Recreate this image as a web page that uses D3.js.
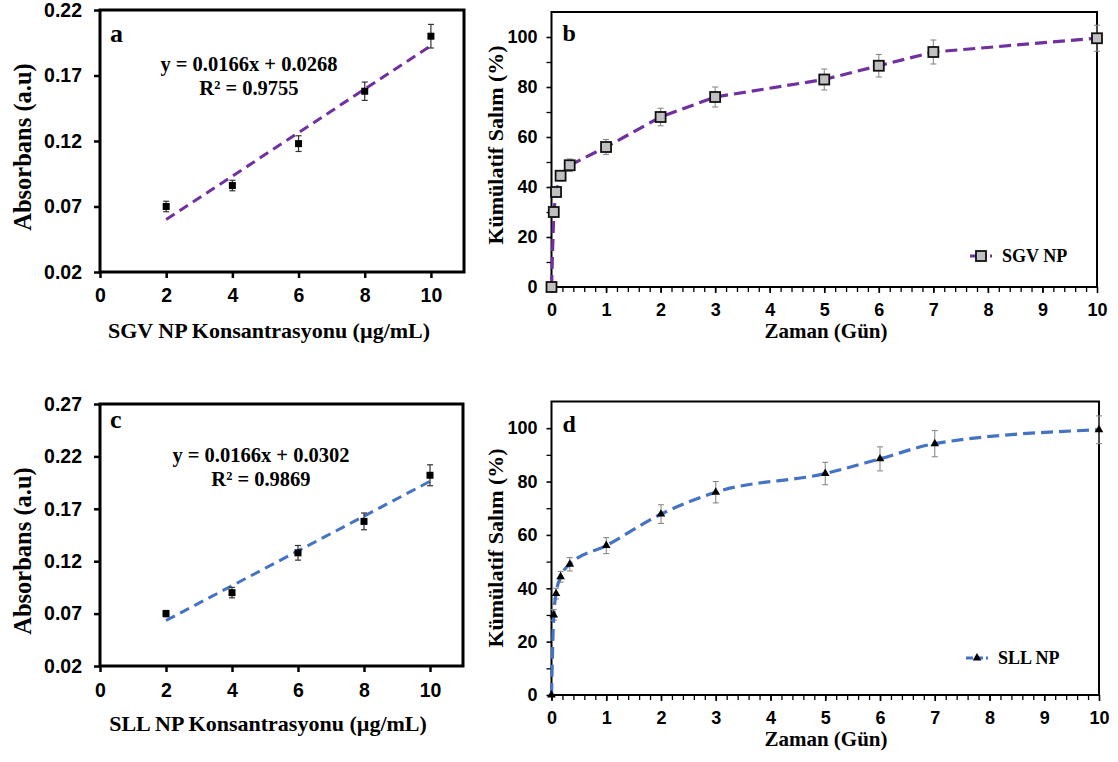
<!DOCTYPE html>
<html>
<head>
<meta charset="utf-8">
<script src="https://cdn.jsdelivr.net/npm/d3@7"></script>
<style>
  body { margin: 0; background: #fff; }
  svg { display: block; }
</style>
</head>
<body>
<svg id="fig" width="1118" height="762"></svg>
<script>
// ---- Calibration curves: absorbance vs. nanoparticle concentration ----
const concentrations = [2, 4, 6, 8, 10];
const absorbanceSGV = [0.070, 0.086, 0.118, 0.158, 0.200];
const absorbanceSGVErr = [0.004, 0.004, 0.006, 0.007, 0.009];
const absorbanceSLL = [0.070, 0.090, 0.128, 0.158, 0.202];
const absorbanceSLLErr = [0.003, 0.005, 0.007, 0.008, 0.010];
const fitSGV = [0.0166, 0.0268, 0.9755];   // slope, intercept, R²
const fitSLL = [0.0166, 0.0302, 0.9869];
const concTicks = [0, 2, 4, 6, 8, 10];
const absTicksSGV = [0.02, 0.07, 0.12, 0.17, 0.22];
const absTicksSLL = [0.02, 0.07, 0.12, 0.17, 0.22, 0.27];

// ---- Cumulative release profiles ----
const days = [0, 1 / 24, 2 / 24, 4 / 24, 8 / 24, 1, 2, 3, 5, 6, 7, 10];
const releaseSGV = [0, 30, 38, 44.5, 48.7, 56, 68, 76, 83, 88.5, 94, 99.5];
const releaseSGVErr = [0, 2, 2, 2, 2.5, 3, 3.5, 4, 4.2, 4.5, 4.8, 5.2];
const releaseSLL = [0, 30, 38, 44.3, 49, 56, 67.8, 76, 83, 88.5, 94.2, 99.4];
const releaseSLLErr = [0, 2, 2, 2, 2.5, 3, 3.5, 4, 4.2, 4.5, 4.9, 5.2];
const dayTicks = [0, 1, 2, 3, 4, 5, 6, 7, 8, 9, 10];
const releaseTicks = [0, 20, 40, 60, 80, 100];

const SANS = "'Liberation Sans', Arial, Helvetica, sans-serif";
const SERIF = "'Liberation Serif', 'Times New Roman', Times, serif";
const PURPLE = "#7030a0";
const BLUE = "#4472c4";

const svg = d3.select("#fig");
svg.append("rect").attr("width", 1118).attr("height", 762).attr("fill", "#fff");

function styleAxis(sel, size, tickWidth) {
  sel.select(".domain").remove();
  sel.selectAll(".tick line").attr("stroke", "#000").attr("stroke-width", tickWidth);
  sel.selectAll(".tick text")
    .attr("fill", "#000")
    .style("font-family", SANS)
    .style("font-weight", "bold")
    .style("font-size", size + "px");
}

function errorBars(g, pts, x, y, color, capW, width) {
  const eb = g.append("g").attr("stroke", color).attr("stroke-width", width).attr("fill", "none");
  pts.filter(p => p.e > 0).forEach(p => {
    const cx = x(p.x), y1 = y(p.y - p.e), y2 = y(p.y + p.e);
    eb.append("line").attr("x1", cx).attr("x2", cx).attr("y1", y1).attr("y2", y2);
    eb.append("line").attr("x1", cx - capW).attr("x2", cx + capW).attr("y1", y1).attr("y2", y1);
    eb.append("line").attr("x1", cx - capW).attr("x2", cx + capW).attr("y1", y2).attr("y2", y2);
  });
}

// ---- Calibration panel (a, c) ----
function calibrationPanel(o) {
  const g = svg.append("g");
  const x = d3.scaleLinear().domain([0, 11]).range([o.left, o.right]);
  const y = d3.scaleLinear().domain([o.yTicks[0], o.yTicks[o.yTicks.length - 1]]).range([o.bottom, o.top]);

  g.append("rect")
    .attr("x", o.left).attr("y", o.top)
    .attr("width", o.right - o.left).attr("height", o.bottom - o.top)
    .attr("fill", "none").attr("stroke", "#000").attr("stroke-width", 3);

  const ya = g.append("g").attr("transform", `translate(${o.left},0)`)
    .call(d3.axisLeft(y).tickValues(o.yTicks).tickFormat(d3.format(".2f")).tickSize(6).tickPadding(12));
  styleAxis(ya, 19.5, 2.5);

  const xa = g.append("g").attr("transform", `translate(0,${o.bottom})`)
    .call(d3.axisBottom(x).tickValues(concTicks).tickFormat(d3.format("d")).tickSize(6).tickPadding(o.xPad));
  styleAxis(xa, 19.5, 2.5);

  // linear fit
  const [slope, intercept, r2] = o.fit;
  const x0 = concentrations[0], x1 = concentrations[concentrations.length - 1];
  g.append("line")
    .attr("x1", x(x0)).attr("y1", y(slope * x0 + intercept))
    .attr("x2", x(x1)).attr("y2", y(slope * x1 + intercept))
    .attr("stroke", o.color).attr("stroke-width", 3).attr("stroke-dasharray", "10,6");

  const pts = concentrations.map((c, i) => ({ x: c, y: o.values[i], e: o.errors[i] }));
  errorBars(g, pts, x, y, "#333", 3, 1.2);
  g.selectAll("rect.pt").data(pts).join("rect").attr("class", "pt")
    .attr("x", d => x(d.x) - 3.5).attr("y", d => y(d.y) - 3.5)
    .attr("width", 7).attr("height", 7).attr("fill", "#000");

  const eq = g.append("g").attr("text-anchor", "middle")
    .style("font-family", SERIF).style("font-weight", "bold").style("font-size", "20.5px");
  eq.append("text").attr("x", o.eqX).attr("y", o.eqY)
    .text(`y = ${slope.toFixed(4)}x + ${intercept.toFixed(4)}`);
  eq.append("text").attr("x", o.eqX).attr("y", o.eqY + 23.5)
    .text(`R² = ${r2.toFixed(4)}`);

  g.append("text").attr("x", o.left + 10).attr("y", o.labelY)
    .style("font-family", SERIF).style("font-weight", "bold").style("font-size", "26px")
    .text(o.label);

  g.append("text")
    .attr("transform", `translate(22,${o.yTitleY}) rotate(-90)`)
    .attr("text-anchor", "middle").attr("dominant-baseline", "central")
    .style("font-family", SERIF).style("font-weight", "bold").style("font-size", "24.5px")
    .text("Absorbans (a.u)");

  g.append("text").attr("x", o.xTitleX).attr("y", o.xTitleY).attr("text-anchor", "middle")
    .style("font-family", SERIF).style("font-weight", "bold").style("font-size", "22px")
    .text(o.xTitle);
}

// ---- Release panel (b, d) ----
function releasePanel(o) {
  const g = svg.append("g");
  const x = d3.scaleLinear().domain([0, 10]).range([o.left, o.right]);
  const y = d3.scaleLinear().domain([0, 110]).range([o.bottom, o.top]);

  g.append("rect")
    .attr("x", o.left).attr("y", o.top)
    .attr("width", o.right - o.left).attr("height", o.bottom - o.top)
    .attr("fill", "none").attr("stroke", "#000").attr("stroke-width", 2);

  // minor ticks
  const xm = g.append("g").attr("transform", `translate(0,${o.bottom})`)
    .call(d3.axisBottom(x).tickValues(d3.range(0, 50).map(i => i / 5)).tickFormat("").tickSize(5));
  styleAxis(xm, 17, 1.3);
  const ym = g.append("g").attr("transform", `translate(${o.left},0)`)
    .call(d3.axisLeft(y).tickValues(d3.range(10, 110, 20)).tickFormat("").tickSize(5));
  styleAxis(ym, 17, 1.3);

  const ya = g.append("g").attr("transform", `translate(${o.left},0)`)
    .call(d3.axisLeft(y).tickValues(releaseTicks).tickFormat(d3.format("d")).tickSize(5).tickPadding(9));
  styleAxis(ya, 18, 1.6);
  const xa = g.append("g").attr("transform", `translate(0,${o.bottom})`)
    .call(d3.axisBottom(x).tickValues(dayTicks).tickFormat(d3.format("d")).tickSize(6).tickPadding(10));
  styleAxis(xa, 18, 1.6);

  const pts = days.map((d, i) => ({ x: d, y: o.values[i], e: o.errors[i] }));
  errorBars(g, pts, x, y, "#8a8a8a", 3, 1.1);

  const line = d3.line().x(d => x(d.x)).y(d => y(d.y)).curve(o.curve);
  g.append("path").datum(pts).attr("d", line)
    .attr("fill", "none").attr("stroke", o.color).attr("stroke-width", 3.2)
    .attr("stroke-dasharray", "12,6");

  const drawMarker = (sel) => {
    if (o.marker === "square") {
      sel.append("rect").attr("x", -5).attr("y", -5).attr("width", 10).attr("height", 10)
        .attr("fill", "#c0c0c0").attr("stroke", "#111").attr("stroke-width", 1.8);
    } else {
      sel.append("path").attr("d", d3.symbol(d3.symbolTriangle, 32)()).attr("fill", "#000");
    }
  };
  g.selectAll("g.mk").data(pts).join("g").attr("class", "mk")
    .attr("transform", d => `translate(${x(d.x)},${y(d.y)})`)
    .each(function () { drawMarker(d3.select(this)); });

  // legend
  const lg = g.append("g").attr("transform", `translate(${o.legX},${o.legY})`);
  lg.append("line").attr("x1", 0).attr("x2", 22).attr("y1", 0).attr("y2", 0)
    .attr("stroke", o.color).attr("stroke-width", 3.2).attr("stroke-dasharray", "7,3");
  drawMarker(lg.append("g").attr("transform", "translate(11,0)"));
  lg.append("text").attr("x", 32).attr("y", 6)
    .style("font-family", SERIF).style("font-weight", "bold").style("font-size", "18px")
    .text(o.legend);

  g.append("text").attr("x", o.left + 11).attr("y", o.labelY)
    .style("font-family", SERIF).style("font-weight", "bold").style("font-size", "24px")
    .text(o.label);

  g.append("text")
    .attr("transform", `translate(495,${o.yTitleY}) rotate(-90)`)
    .attr("text-anchor", "middle").attr("dominant-baseline", "central")
    .style("font-family", SERIF).style("font-weight", "bold").style("font-size", "22px")
    .text("Kümülatif Salım (%)");

  g.append("text").attr("x", 826).attr("y", o.xTitleY).attr("text-anchor", "middle")
    .style("font-family", SERIF).style("font-weight", "bold").style("font-size", "21px")
    .text("Zaman (Gün)");
}

calibrationPanel({
  left: 100, right: 464, top: 10, bottom: 272, yTicks: absTicksSGV,
  values: absorbanceSGV, errors: absorbanceSGVErr, fit: fitSGV, color: PURPLE,
  eqX: 249, eqY: 71, label: "a", labelY: 42, xPad: 10,
  yTitleY: 147, xTitleX: 269, xTitleY: 338,
  xTitle: "SGV NP Konsantrasyonu (µg/mL)"
});

calibrationPanel({
  left: 100, right: 463, top: 404, bottom: 666, yTicks: absTicksSLL,
  values: absorbanceSLL, errors: absorbanceSLLErr, fit: fitSLL, color: BLUE,
  eqX: 261, eqY: 462, label: "c", labelY: 428, xPad: 11,
  yTitleY: 551, xTitleX: 268, xTitleY: 731,
  xTitle: "SLL NP Konsantrasyonu (µg/mL)"
});

releasePanel({
  left: 551.5, right: 1097, top: 12, bottom: 287,
  values: releaseSGV, errors: releaseSGVErr, color: PURPLE, marker: "square",
  curve: d3.curveLinear,
  legend: "SGV NP", legX: 970, legY: 256, label: "b", labelY: 41,
  yTitleY: 145, xTitleY: 338
});

releasePanel({
  left: 551.5, right: 1099, top: 401.5, bottom: 695,
  values: releaseSLL, errors: releaseSLLErr, color: BLUE, marker: "triangle",
  curve: d3.curveMonotoneX,
  legend: "SLL NP", legX: 966, legY: 658, label: "d", labelY: 432,
  yTitleY: 548, xTitleY: 746
});
</script>
</body>
</html>
